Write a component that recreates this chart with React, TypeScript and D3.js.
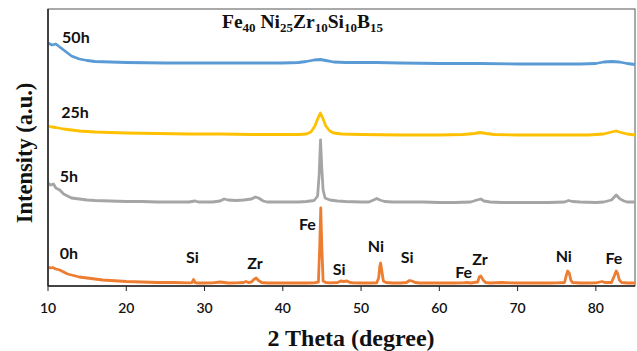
import React from "react";
import * as d3 from "d3";

// 2θ (degree), intensity (a.u.)
const xTicks = [10, 20, 30, 40, 50, 60, 70, 80];

const series0h: [number, number][] = [
  [10, 19], [10.3, 18], [10.6, 18.5], [11, 17], [11.5, 16], [12, 14], [12.5, 12], [13, 11], [13.5, 10],
  [14, 9], [15, 8], [16, 7], [17, 6], [18, 5.5], [19, 5], [20, 4.5], [22, 4], [24, 3.5], [26, 3.5],
  [28, 3.2], [28.4, 3.4], [28.6, 6.5], [28.8, 3.4], [29, 3], [30, 3], [31, 3.2], [32, 4], [32.5, 3.5],
  [33, 3], [34, 3.2], [35, 3.5], [35.3, 4.5], [35.6, 3.5], [36, 4], [36.3, 6.5], [36.6, 8], [36.9, 5.5],
  [37.3, 3.5], [38, 3], [39, 3], [40, 3], [41, 3], [42, 3], [43, 3], [44, 3.2], [44.55, 4],
  [44.72, 40], [44.85, 78], [44.98, 40], [45.15, 5], [45.5, 3.5], [46, 3.2], [47, 3.5], [47.4, 5],
  [47.8, 4.5], [48.2, 5], [48.6, 3.5], [49, 3.2], [50, 3], [51, 3], [52, 3.2], [52.25, 8], [52.4, 20],
  [52.5, 23], [52.65, 15], [52.85, 5], [53.2, 3.5], [54, 3], [55, 3], [55.8, 3.5], [56.2, 5.5],
  [56.5, 5], [56.9, 3.5], [57.5, 3], [58, 3], [60, 3], [62, 3], [63, 3.2], [63.5, 3.5], [64, 3],
  [64.9, 4], [65.1, 9], [65.3, 10], [65.6, 6], [65.9, 3.5], [66.5, 3], [68, 3.5], [69, 3.2], [70, 3],
  [72, 3], [74, 3], [75, 3.2], [76, 3.5], [76.2, 10], [76.4, 15], [76.6, 13], [76.8, 6], [77, 3.5],
  [78, 3], [79, 3], [80, 3.2], [80.8, 4.5], [81.1, 3.5], [82, 3.5], [82.35, 10], [82.6, 15],
  [82.8, 12], [83, 6], [83.3, 3.5], [84, 3], [85, 3],
];

const series5h: [number, number][] = [
  [10, 103], [10.3, 101], [10.7, 102], [11, 98], [11.5, 96], [12, 92], [12.5, 90], [13, 88], [14, 87],
  [15, 86], [16, 85.5], [18, 85], [20, 84.5], [22, 84.5], [24, 84], [26, 84], [28, 84], [28.8, 85],
  [29.2, 84], [30, 84], [31, 84], [32, 85], [32.5, 87], [33, 86], [34, 85.5], [35, 86], [36, 87],
  [36.5, 89], [36.9, 88], [37.5, 85], [38, 84], [40, 84], [42, 84], [43, 84.5], [44, 85.5],
  [44.45, 90], [44.65, 112], [44.82, 146], [44.98, 118], [45.15, 96], [45.4, 88], [46, 86], [47, 85],
  [48, 84.5], [50, 84], [51, 84], [51.6, 86], [52, 87.5], [52.4, 86], [53, 84.5], [54, 84], [56, 84],
  [58, 84], [60, 83.5], [62, 83.5], [64, 84], [64.8, 86], [65.3, 87], [65.7, 85], [66.5, 84],
  [68, 83.5], [70, 83.5], [72, 83.5], [74, 83.5], [76, 84], [76.5, 85.5], [77, 84.5], [78, 84],
  [80, 83.5], [81, 84], [82, 86], [82.6, 91], [83.1, 87], [83.6, 85], [84, 84], [85, 84],
];

const series25h: [number, number][] = [
  [10, 160], [10.5, 159], [11, 158.5], [12, 157], [13, 156], [14, 155], [16, 154], [18, 153.5],
  [20, 153], [24, 152.5], [28, 152], [32, 152], [36, 151.5], [40, 151.5], [42, 151.5], [43, 152],
  [43.6, 154], [44.1, 160], [44.5, 168], [44.8, 173], [45.1, 168], [45.5, 160], [46, 155],
  [46.5, 153], [47.5, 152], [50, 151.5], [55, 151], [60, 151], [63, 151.5], [64.5, 152.5],
  [65.2, 153.5], [66, 152.5], [67, 151.5], [70, 151], [75, 151], [79, 151], [81, 152], [82, 154],
  [82.6, 155], [83.2, 153.5], [84, 152], [85, 151],
];

const series50h: [number, number][] = [
  [10, 243], [10.5, 241], [11, 242], [11.5, 239], [12, 236], [12.5, 233], [13, 230], [14, 227],
  [15, 225.5], [16, 224.5], [18, 224], [20, 223.5], [25, 223], [30, 223], [35, 223], [40, 223],
  [42, 223.5], [43, 224.5], [44, 226], [44.8, 226.5], [45.5, 225.5], [46.5, 224], [48, 223.5],
  [52, 223.5], [55, 223], [60, 222.5], [65, 222.5], [70, 222], [75, 222], [78, 222], [80, 222.5],
  [81, 224], [82, 224.5], [83, 224], [84, 222.5], [85, 221.5],
];

const seriesNames = ["0h", "5h", "25h", "50h"];
const seriesColors = ["#ED7D31", "#A5A5A5", "#FFC000", "#5B9BD5"];
const seriesData = [series0h, series5h, series25h, series50h];
// label anchor: [2θ, intensity]
const seriesLabelPos: [number, number][] = [[11.5, 27], [11.5, 104], [11.7, 168], [11.8, 243]];

const peakLabels = ["Si", "Zr", "Fe", "Si", "Ni", "Si", "Fe", "Zr", "Ni", "Fe"];
const peakLabelPos: [number, number][] = [
  [28.45, 23], [36.45, 17], [43.15, 56], [47.2, 11], [51.9, 34], [55.9, 23], [63.1, 8], [65.2, 21],
  [75.9, 24], [82.3, 22],
];

export default function App() {
  const W = 637, H = 351;
  const m = { l: 48, r: 2, t: 9, b: 65 };
  const x = d3.scaleLinear().domain([10, 85]).range([m.l, W - m.r]);
  const y = d3.scaleLinear().domain([0, 277]).range([H - m.b, m.t]);
  const line = d3.line<[number, number]>().x((d) => x(d[0])).y((d) => y(d[1])).curve(d3.curveLinear);
  const sans = "Lato, 'Open Sans', sans-serif";
  const serif = "'Liberation Serif', 'DejaVu Serif', serif";

  return (
    <svg width={W} height={H} style={{ position: "absolute", left: 0, top: 0, display: "block", background: "#fff" }}>
      <rect x={m.l} y={m.t} width={W - m.r - m.l} height={H - m.b - m.t} fill="none" stroke="#555" strokeWidth={1} />
      {seriesData.map((s, i) => (
        <path key={i} d={line(s) || ""} fill="none" stroke={seriesColors[i]} strokeWidth={2.8} strokeLinejoin="round" />
      ))}
      <line x1={m.l} x2={W - m.r} y1={H - m.b} y2={H - m.b} stroke="#222" strokeWidth={1.5} />
      <line x1={m.l} x2={m.l} y1={m.t} y2={H - m.b} stroke="#222" strokeWidth={1.5} />
      {xTicks.map((t) => (
        <g key={t}>
          <line x1={x(t)} x2={x(t)} y1={H - m.b} y2={H - m.b + 5} stroke="#222" strokeWidth={1} />
          <text x={x(t)} y={H - m.b + 27} textAnchor="middle" fontFamily={sans} fontSize={14} fontWeight={600} fill="#111">{t}</text>
        </g>
      ))}
      {seriesNames.map((n, i) => (
        <text key={n} x={x(seriesLabelPos[i][0])} y={y(seriesLabelPos[i][1])} fontFamily={sans} fontSize={16} fontWeight={700} fill="#111">{n}</text>
      ))}
      {peakLabels.map((p, i) => (
        <text key={i} x={x(peakLabelPos[i][0])} y={y(peakLabelPos[i][1])} textAnchor="middle" fontFamily={sans} fontSize={16} fontWeight={700} fill="#111">{p}</text>
      ))}
      <text x={222} y={28} fontFamily={serif} fontSize={19.5} fontWeight="bold" fill="#111">
        Fe<tspan fontSize={13} dy={4}>40</tspan>
        <tspan dy={-4}> Ni</tspan><tspan fontSize={13} dy={4}>25</tspan>
        <tspan dy={-4}>Zr</tspan><tspan fontSize={13} dy={4}>10</tspan>
        <tspan dy={-4}>Si</tspan><tspan fontSize={13} dy={4}>10</tspan>
        <tspan dy={-4}>B</tspan><tspan fontSize={13} dy={4}>15</tspan>
      </text>
      <text x={351} y={346} textAnchor="middle" fontFamily={serif} fontSize={24} fontWeight="bold" fill="#111">2 Theta (degree)</text>
      <text transform={`translate(32,153) rotate(-90)`} textAnchor="middle" fontFamily={serif} fontSize={22.5} fontWeight="bold" fill="#111">Intensity (a.u.)</text>
    </svg>
  );
}
